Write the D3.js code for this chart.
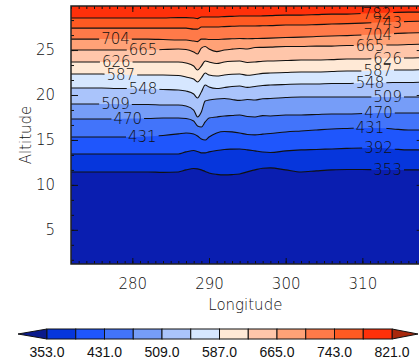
<!DOCTYPE html>
<html>
<head>
<meta charset="utf-8">
<script src="https://cdn.jsdelivr.net/npm/d3@7"></script>
<style>
  body { margin: 0; background: #fff; }
  svg { display: block; }
  .axis text { font-family: "DejaVu Sans", sans-serif; font-size: 15px; font-weight: 200; fill: #111; }
  .axis line { stroke: #111; stroke-width: 1; }
  .axis path { display: none; }
</style>
</head>
<body>
<div id="chart"></div>
<script>
// longitudes where the contour altitudes were read
const lons = [272, 274, 276, 278, 280, 282, 284, 286, 287, 288, 288.5, 289, 289.5, 290, 291, 292,
  293, 294, 295, 296, 297, 298, 300, 302, 304, 306, 308, 310, 312, 314, 316, 318];

// contour levels (K) and the colour bar edges
const barLevels = [353, 392, 431, 470, 509, 548, 587, 626, 665, 704, 743, 782, 821];
const barTicks = [353, 431, 509, 587, 665, 743, 821];

// altitude (km) of each contour along lons
const alt353 = [11.44, 11.44, 11.44, 11.44, 11.44, 11.44, 11.39, 11.44, 11.67, 11.83, 11.78, 11.67, 11.5, 11.33, 11.17, 11.11,
  11.14, 11.22, 11.45, 11.67, 11.85, 11.89, 11.67, 11.44, 11.56, 11.67, 11.72, 11.72, 11.67, 11.67, 11.67, 11.67];
const alt392 = [13.44, 13.44, 13.44, 13.44, 13.44, 13.44, 13.44, 13.44, 13.67, 13.83, 13.72, 13.56, 13.56, 13.67, 13.83, 13.94,
  13.98, 14.0, 13.9, 13.78, 13.66, 13.61, 13.78, 13.89, 13.94, 14.0, 14.06, 14.11, 14.11, 14.0, 13.89, 13.89];
const alt431 = [15.33, 15.33, 15.33, 15.33, 15.33, 15.39, 15.5, 15.67, 15.78, 15.67, 15.44, 15.11, 15.0, 15.33, 15.78, 15.94,
  15.9, 15.78, 15.6, 15.56, 15.65, 15.72, 15.89, 16.0, 16.11, 16.22, 16.28, 16.33, 16.33, 16.22, 16.11, 16.11];
const alt470 = [17.33, 17.33, 17.33, 17.33, 17.39, 17.39, 17.44, 17.44, 17.39, 17.11, 16.56, 16.44, 17.0, 17.44, 17.56, 17.67,
  17.72, 17.78, 17.6, 17.56, 17.7, 17.67, 17.78, 17.78, 17.83, 17.89, 17.89, 17.94, 18.0, 18.0, 18.0, 18.0];
const alt509 = [19.0, 19.0, 19.0, 19.0, 18.94, 18.94, 18.89, 18.89, 18.78, 18.33, 17.56, 18.11, 19.33, 19.44, 19.56, 19.61,
  19.5, 19.4, 19.5, 19.44, 19.58, 19.61, 19.72, 19.78, 19.78, 19.78, 19.78, 19.78, 19.78, 19.78, 19.78, 19.78];
const alt548 = [20.78, 20.78, 20.78, 20.72, 20.72, 20.67, 20.61, 20.56, 20.44, 20.11, 19.67, 20.33, 21.11, 20.89, 20.72, 20.83,
  20.95, 21.0, 20.85, 20.94, 21.06, 21.11, 21.17, 21.22, 21.22, 21.28, 21.28, 21.33, 21.33, 21.39, 21.39, 21.44];
const alt587 = [22.33, 22.33, 22.33, 22.28, 22.22, 22.22, 22.22, 22.17, 22.0, 21.78, 21.44, 21.89, 22.44, 22.22, 22.11, 22.22,
  22.3, 22.33, 22.2, 22.28, 22.4, 22.44, 22.5, 22.56, 22.56, 22.61, 22.67, 22.67, 22.72, 22.78, 22.78, 22.83];
const alt626 = [23.67, 23.67, 23.67, 23.67, 23.67, 23.67, 23.67, 23.67, 23.56, 23.22, 22.78, 23.22, 23.78, 23.67, 23.5, 23.67,
  23.75, 23.78, 23.62, 23.67, 23.76, 23.78, 23.83, 23.89, 23.89, 23.94, 24.0, 24.0, 24.06, 24.11, 24.11, 24.17];
const alt665 = [25.0, 25.0, 25.0, 25.0, 25.0, 25.0, 25.06, 25.11, 25.06, 24.78, 24.56, 25.22, 25.39, 25.11, 24.83, 25.0,
  25.1, 25.17, 25.12, 25.28, 25.3, 25.33, 25.39, 25.39, 25.44, 25.44, 25.5, 25.5, 25.56, 25.56, 25.61, 25.67];
const alt704 = [26.22, 26.22, 26.22, 26.22, 26.22, 26.22, 26.17, 26.11, 26.11, 26.0, 25.94, 26.22, 26.22, 26.17, 26.17, 26.22,
  26.25, 26.28, 26.26, 26.28, 26.3, 26.33, 26.39, 26.44, 26.5, 26.56, 26.61, 26.67, 26.72, 26.83, 26.89, 26.94];
const alt743 = [27.44, 27.44, 27.44, 27.44, 27.44, 27.44, 27.44, 27.44, 27.44, 27.33, 27.33, 27.56, 27.56, 27.56, 27.56, 27.61,
  27.64, 27.67, 27.67, 27.67, 27.7, 27.72, 27.78, 27.78, 27.83, 27.89, 27.94, 28.0, 28.06, 28.11, 28.17, 28.22];
const alt782 = [28.56, 28.56, 28.56, 28.56, 28.56, 28.56, 28.56, 28.61, 28.61, 28.56, 28.5, 28.67, 28.67, 28.67, 28.67, 28.72,
  28.75, 28.78, 28.78, 28.78, 28.8, 28.83, 28.89, 28.89, 28.94, 29.0, 29.0, 29.06, 29.11, 29.17, 29.22, 29.22];

const contourAlts = [alt353, alt392, alt431, alt470, alt509, alt548, alt587, alt626, alt665, alt704, alt743, alt782];

// longitude of the in-line labels (left group and right group)
const leftLabelLevels = [704, 665, 626, 587, 548, 509, 470, 431];
const leftLabelLons = [277.8, 281.4, 277.9, 278.5, 281.4, 277.8, 279.4, 281.3];
const rightLabelLevels = [782, 743, 704, 665, 626, 587, 548, 509, 470, 431, 392, 353];
const rightLabelLons = [311.9, 313.3, 312.0, 311.0, 313.3, 312.0, 311.0, 313.3, 312.1, 311.0, 312.1, 313.3];

// below 353, the 12 bins, above 821
const binColors = ["#0a1eb0", "#0636dc", "#1f56fc", "#4274fa", "#769df8", "#aac4fb", "#d6e7ff",
  "#ffe9d6", "#ffc6aa", "#ffa277", "#ff7a49", "#ff5a22", "#ff300a", "#a8280c"];
const arrowLow = "#0a1a8c";

const config = {
  width: 419, height: 363,
  plot: { left: 71, top: 6, bottom: 264, right: 423.7 },
  bar: { left: 47, right: 392, top: 329, bottom: 339, tipLeft: 18, tipRight: 418 },
  font: "'DejaVu Sans', sans-serif",
};

const plot = config.plot;
const x = d3.scaleLinear().domain([272, 318]).range([plot.left, plot.right]);
const y = d3.scaleLinear().domain([1.2, 29.9]).range([plot.bottom, plot.top]);

const svg = d3.select("#chart").append("svg")
  .attr("width", config.width)
  .attr("height", config.height);

const defs = svg.append("defs");
defs.append("clipPath").attr("id", "plotClip")
  .append("rect")
  .attr("x", plot.left).attr("y", plot.top)
  .attr("width", plot.right - plot.left).attr("height", plot.bottom - plot.top);

const curve = d3.curveMonotoneX;
const plotArea = svg.append("g").attr("clip-path", "url(#plotClip)");

// filled bands: paint from the bottom up
plotArea.append("rect")
  .attr("x", plot.left).attr("y", plot.top)
  .attr("width", plot.right - plot.left).attr("height", plot.bottom - plot.top)
  .attr("fill", binColors[0]);

const bandArea = d3.area()
  .x((d, i) => x(lons[i]))
  .y0(d => y(d))
  .y1(plot.top)
  .curve(curve);

contourAlts.forEach((alts, k) => {
  plotArea.append("path")
    .datum(alts)
    .attr("fill", binColors[k + 1])
    .attr("d", bandArea);
});

// contour lines, with gaps cut under the labels
const mask = defs.append("mask").attr("id", "labelGap")
  .attr("maskUnits", "userSpaceOnUse")
  .attr("x", 0).attr("y", 0).attr("width", config.width).attr("height", config.height);
mask.append("rect").attr("width", config.width).attr("height", config.height).attr("fill", "#fff");

const contourLine = d3.line()
  .x((d, i) => x(lons[i]))
  .y(d => y(d))
  .curve(curve);

plotArea.append("g")
  .attr("mask", "url(#labelGap)")
  .selectAll("path")
  .data(contourAlts)
  .join("path")
  .attr("fill", "none")
  .attr("stroke", "#111")
  .attr("stroke-width", 1.1)
  .attr("d", contourLine);

function altAt(level, lon) {
  const alts = contourAlts[barLevels.indexOf(level)];
  return d3.scaleLinear().domain(lons).range(alts)(lon);
}

const labels = plotArea.append("g")
  .style("font-family", config.font)
  .style("font-size", "15px")
  .style("font-weight", 200)
  .attr("fill", "#111");

const labelData = leftLabelLevels.map((lv, i) => ({ level: lv, lon: leftLabelLons[i] }))
  .concat(rightLabelLevels.map((lv, i) => ({ level: lv, lon: rightLabelLons[i] })));

labels.selectAll("text")
  .data(labelData)
  .join("text")
  .attr("x", d => x(d.lon))
  .attr("y", d => y(altAt(d.level, d.lon)))
  .attr("text-anchor", "middle")
  .attr("dy", "0.36em")
  .text(d => d.level)
  .each(function () {
    const b = this.getBBox();
    mask.append("rect")
      .attr("x", b.x - 2).attr("y", b.y + 2)
      .attr("width", b.width + 4).attr("height", b.height - 4)
      .attr("fill", "#000");
  });

// axes, ticks pointing inward
const xMinor = d3.range(272, 319, 1);
const yMinor = d3.range(0, 31, 5 / 3).filter(v => v >= 1.2 && v <= 29.9);

svg.append("g").attr("class", "axis")
  .attr("transform", `translate(0,${plot.bottom})`)
  .call(d3.axisBottom(x).tickValues(xMinor).tickSize(-3).tickFormat(""));
svg.append("g").attr("class", "axis")
  .attr("transform", `translate(0,${plot.bottom})`)
  .call(d3.axisBottom(x).tickValues([280, 290, 300, 310]).tickSize(-6).tickPadding(14));
svg.append("g").attr("class", "axis")
  .attr("transform", `translate(0,${plot.top})`)
  .call(d3.axisTop(x).tickValues(xMinor).tickSize(-3).tickFormat(""));
svg.append("g").attr("class", "axis")
  .attr("transform", `translate(0,${plot.top})`)
  .call(d3.axisTop(x).tickValues([280, 290, 300, 310]).tickSize(-6).tickFormat(""));

svg.append("g").attr("class", "axis")
  .attr("transform", `translate(${plot.left},0)`)
  .call(d3.axisLeft(y).tickValues(yMinor).tickSize(-3).tickFormat(""));
svg.append("g").attr("class", "axis")
  .attr("transform", `translate(${plot.left},0)`)
  .call(d3.axisLeft(y).tickValues([5, 10, 15, 20, 25]).tickSize(-7).tickPadding(16));
svg.append("g").attr("class", "axis")
  .attr("transform", `translate(${plot.right},0)`)
  .call(d3.axisRight(y).tickValues(yMinor).tickSize(-3).tickFormat(""));
svg.append("g").attr("class", "axis")
  .attr("transform", `translate(${plot.right},0)`)
  .call(d3.axisRight(y).tickValues([5, 10, 15, 20, 25]).tickSize(-7).tickFormat(""));

svg.append("rect")
  .attr("x", plot.left).attr("y", plot.top)
  .attr("width", plot.right - plot.left).attr("height", plot.bottom - plot.top)
  .attr("fill", "none").attr("stroke", "#222").attr("stroke-width", 1.5);

svg.append("text")
  .attr("x", (plot.left + plot.right) / 2 - 2)
  .attr("y", 310)
  .attr("text-anchor", "middle")
  .style("font-family", config.font)
  .style("font-size", "15px")
  .style("font-weight", 200)
  .attr("fill", "#111")
  .text("Longitude");

svg.append("text")
  .attr("transform", `translate(31,${(plot.top + plot.bottom) / 2}) rotate(-90)`)
  .attr("text-anchor", "middle")
  .style("font-family", config.font)
  .style("font-size", "15px")
  .style("font-weight", 200)
  .attr("fill", "#111")
  .text("Altitude");

// colour bar
const bar = config.bar;
const cbx = d3.scaleLinear().domain([barLevels[0], barLevels[barLevels.length - 1]]).range([bar.left, bar.right]);
const barMid = (bar.top + bar.bottom) / 2;
const cb = svg.append("g");

cb.append("path")
  .attr("d", `M${bar.left},${bar.top}L${bar.tipLeft},${barMid}L${bar.left},${bar.bottom}Z`)
  .attr("fill", arrowLow).attr("stroke", "#111").attr("stroke-width", 1);
cb.append("path")
  .attr("d", `M${bar.right},${bar.top}L${bar.tipRight},${barMid}L${bar.right},${bar.bottom}Z`)
  .attr("fill", binColors[binColors.length - 1]).attr("stroke", "#111").attr("stroke-width", 1);

cb.selectAll("rect.bin")
  .data(d3.pairs(barLevels))
  .join("rect")
  .attr("class", "bin")
  .attr("x", d => cbx(d[0]))
  .attr("y", bar.top)
  .attr("width", d => cbx(d[1]) - cbx(d[0]))
  .attr("height", bar.bottom - bar.top)
  .attr("fill", (d, i) => binColors[i + 1])
  .attr("stroke", "#111")
  .attr("stroke-width", 1);

cb.selectAll("text")
  .data(barTicks)
  .join("text")
  .attr("x", d => cbx(d))
  .attr("y", 357)
  .attr("text-anchor", "middle")
  .style("font-family", "'Liberation Sans', Arial, sans-serif")
  .style("font-size", "14px")
  .attr("fill", "#111")
  .text(d => d3.format(".1f")(d));
</script>
</body>
</html>
